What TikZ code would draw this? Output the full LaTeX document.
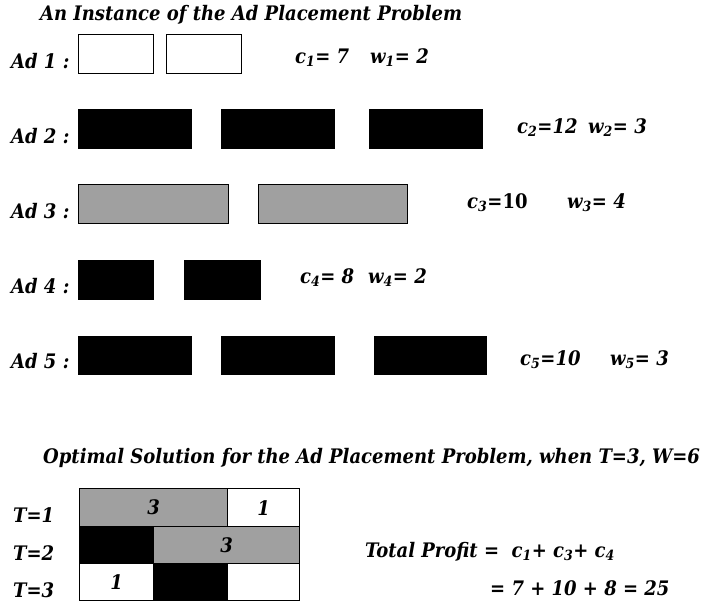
\documentclass[tikz,border=0pt]{standalone}
\usepackage{fontspec}
\setmainfont{DejaVu Serif Condensed}
\usepackage{tikz}
\usetikzlibrary{positioning}
\definecolor{ink}{HTML}{000000}
\definecolor{shade}{HTML}{A0A0A0}
\newcommand{\idx}[1]{\textsubscript{#1}}

\begin{document}
\begin{tikzpicture}[x=1pt,y=-1pt,
  txt/.style={anchor=base west,inner sep=0pt,font=\fontsize{20}{24}\selectfont\bfseries\itshape},
  slot/.style={draw=ink,line width=1.3pt,inner sep=0pt,anchor=north west,font=\fontsize{20}{24}\selectfont\bfseries\itshape},
  empty/.style={slot,fill=white},
  solid/.style={slot,fill=ink},
  grey/.style={slot,fill=shade}]
  \useasboundingbox (0,0) rectangle (706,603);

  % instance
  \node[txt] (top) at (40,20) {An Instance of the Ad Placement Problem};

  \node[txt] (ad1) at (11,68) {Ad 1 :};
  \node[empty,minimum width=75,minimum height=39] (a11) at (78,34) {};
  \node[empty,minimum width=75,minimum height=39] (a12) at (166,34) {};
  \node[txt] (c1) at (295,63) {c\idx{1}= 7};
  \node[txt] (w1) at (370,63) {w\idx{1}= 2};

  \node[txt] (ad2) at (11,143) {Ad 2 :};
  \node[solid,minimum width=113,minimum height=39] (a21) at (78,109) {};
  \node[solid,minimum width=113,minimum height=39] (a22) at (221,109) {};
  \node[solid,minimum width=113,minimum height=39] (a23) at (369,109) {};
  \node[txt] (c2) at (517,133) {c\idx{2}=12};
  \node[txt] (w2) at (588,133) {w\idx{2}= 3};

  \node[txt] (ad3) at (11,218) {Ad 3 :};
  \node[grey,minimum width=150,minimum height=39] (a31) at (78,184) {};
  \node[grey,minimum width=149,minimum height=39] (a32) at (258,184) {};
  \node[txt] (c3) at (467,208) {c\idx{3}=\textup{10}};
  \node[txt] (w3) at (567,208) {w\idx{3}= 4};

  \node[txt] (ad4) at (11,293) {Ad 4 :};
  \node[solid,minimum width=75,minimum height=39] (a41) at (78,260) {};
  \node[solid,minimum width=76,minimum height=39] (a42) at (184,260) {};
  \node[txt] (c4) at (300,283) {c\idx{4}= 8};
  \node[txt] (w4) at (368,283) {w\idx{4}= 2};

  \node[txt] (ad5) at (11,368) {Ad 5 :};
  \node[solid,minimum width=113,minimum height=38] (a51) at (78,336) {};
  \node[solid,minimum width=113,minimum height=38] (a52) at (221,336) {};
  \node[solid,minimum width=112,minimum height=38] (a53) at (374,336) {};
  \node[txt] (c5) at (520,365) {c\idx{5}=10};
  \node[txt] (w5) at (610,365) {w\idx{5}= 3};

  % solution
  \node[txt] (opt) at (43,463) {Optimal Solution for the Ad Placement Problem, when T=3, W=6};

  \node[txt] (t1) at (13,522) {T=1};
  \node[txt] (t2) at (13,560) {T=2};
  \node[txt] (t3) at (13,597) {T=3};

  \node[grey,minimum width=148,minimum height=38] (s11) at (79,488) {3};
  \node[empty,minimum width=72,minimum height=38] (s13) at (227,488) {1};
  \node[solid,minimum width=74,minimum height=37] (s21) at (79,526) {};
  \node[grey,minimum width=146,minimum height=37] (s22) at (153,526) {3};
  \node[empty,minimum width=74,minimum height=37] (s31) at (79,563) {1};
  \node[solid,minimum width=74,minimum height=37] (s32) at (153,563) {};
  \node[empty,minimum width=72,minimum height=37] (s33) at (227,563) {};

  \node[txt] (sum) at (365,557) {Total Profit =\ \ c\idx{1}+\ c\idx{3}+\ c\idx{4}};
  \node[txt] (val) at (490,595) {=\ 7 + 10 + 8 = 25};
\end{tikzpicture}
\end{document}
